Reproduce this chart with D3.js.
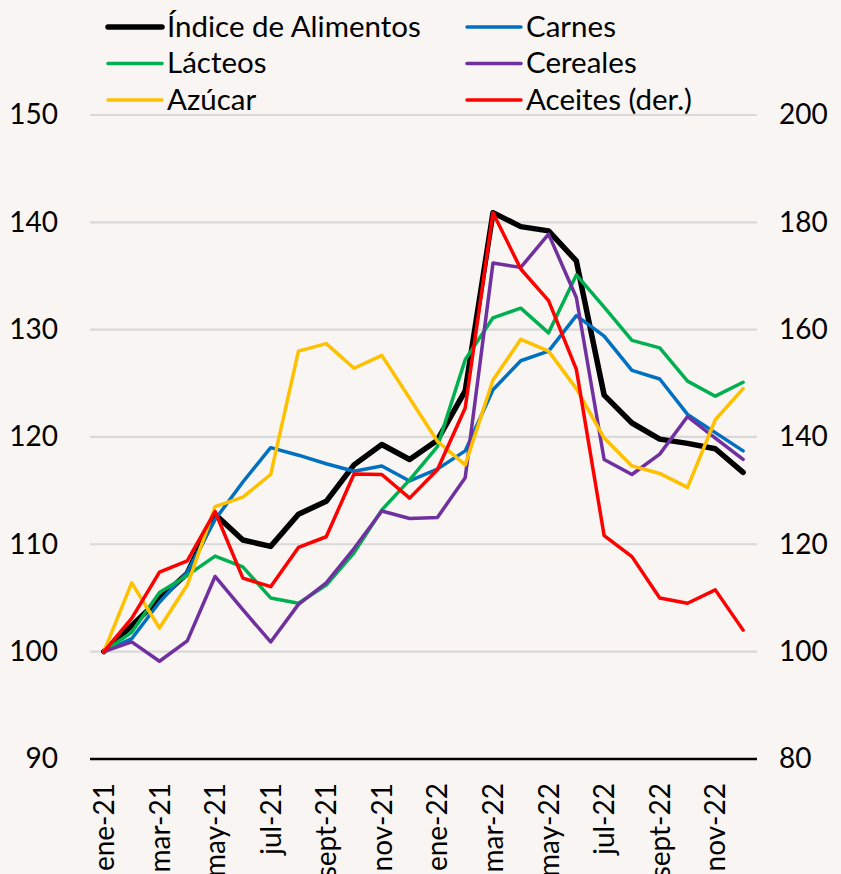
<!DOCTYPE html>
<html><head><meta charset="utf-8">
<script src="https://cdn.jsdelivr.net/npm/d3@7"></script>
<style>
html,body{margin:0;padding:0;background:#f8f5f2;}
svg{display:block;font-family:Lato, "Open Sans", sans-serif;}
</style></head>
<body>
<svg id="c" width="841" height="874"></svg>
<script>
const months = ["ene-21","feb-21","mar-21","abr-21","may-21","jun-21","jul-21","ago-21","sept-21","oct-21","nov-21","dic-21",
                "ene-22","feb-22","mar-22","abr-22","may-22","jun-22","jul-22","ago-22","sept-22","oct-22","nov-22","dic-22"];
const indice   = [100,102.4,104.9,107.3,112.8,110.4,109.8,112.8,114.0,117.4,119.3,117.9,119.7,124.3,140.9,139.6,139.2,136.4,123.9,121.3,119.8,119.4,118.9,116.7];
const carnes   = [100,101.2,104.6,107.4,112.3,115.8,119.0,118.3,117.5,116.8,117.3,115.9,117.0,118.7,124.4,127.1,128.0,131.3,129.4,126.2,125.4,122.1,120.4,118.7];
const lacteos  = [100,101.8,105.5,107.1,108.9,107.9,105.0,104.5,106.2,109.2,113.2,116.0,119.1,127.2,131.1,132.0,129.7,135.1,132.1,129.0,128.3,125.2,123.8,125.1];
const cereales = [100,100.9,99.1,101.0,107.0,103.9,100.9,104.4,106.4,109.6,113.1,112.4,112.5,116.2,136.2,135.8,138.9,133.0,117.9,116.5,118.4,121.9,119.9,117.9];
const azucar   = [100,106.4,102.2,106.2,113.5,114.4,116.5,128.0,128.7,126.4,127.6,123.6,119.6,117.4,125.3,129.1,128.0,124.5,119.9,117.3,116.6,115.3,121.6,124.5];
const aceites  = [100,106.2,114.8,116.9,126.1,113.7,112.1,119.4,121.4,133.1,133.0,128.6,133.9,145.4,181.8,171.3,165.4,152.6,121.6,117.7,110.0,109.0,111.5,104.0];
const leftTicks  = [90,100,110,120,130,140,150];
const rightTicks = [80,100,120,140,160,180,200];

const series = [
  {name:"Índice de Alimentos", values:indice,   color:"#000000", width:5.5, axis:"L"},
  {name:"Carnes",              values:carnes,   color:"#0070c0", width:3.5, axis:"L"},
  {name:"Lácteos",             values:lacteos,  color:"#00b050", width:3.5, axis:"L"},
  {name:"Cereales",            values:cereales, color:"#7030a0", width:3.5, axis:"L"},
  {name:"Azúcar",              values:azucar,   color:"#ffc000", width:3.5, axis:"L"},
  {name:"Aceites (der.)",      values:aceites,  color:"#ff0000", width:3.5, axis:"R"}
];

const svg = d3.select("#c");
const x = d3.scaleBand().domain(months).range([90,757]);
const yL = d3.scaleLinear().domain([90,150]).range([758.9,115]);
const yR = d3.scaleLinear().domain([80,200]).range([758.9,115]);

// gridlines
svg.append("g").selectAll("line").data(leftTicks.filter(d=>d>90)).join("line")
  .attr("x1",90).attr("x2",757).attr("y1",d=>yL(d)).attr("y2",d=>yL(d))
  .attr("stroke","#d9d9d9").attr("stroke-width",2.2);

// left axis labels
const axL = d3.axisLeft(yL).tickValues(leftTicks).tickSize(0).tickPadding(0);
const gL = svg.append("g").attr("transform","translate(58,0)").call(axL);
gL.select(".domain").remove();
gL.selectAll("text").attr("font-size",28).attr("fill","#000").attr("font-family","Lato");

const axR = d3.axisRight(yR).tickValues(rightTicks).tickSize(0).tickPadding(0);
const gR = svg.append("g").attr("transform","translate(779,0)").call(axR);
gR.select(".domain").remove();
gR.selectAll("text").attr("font-size",28).attr("fill","#000").attr("font-family","Lato");

// x axis line
svg.append("line").attr("x1",90).attr("x2",757).attr("y1",yL(90)).attr("y2",yL(90))
  .attr("stroke","#000").attr("stroke-width",2.5);

// x labels
const gX = svg.append("g");
gX.selectAll("text").data(months.filter((d,i)=>i%2===0)).join("text")
  .attr("transform",d=>`translate(${x(d)+x.bandwidth()/2},783) rotate(-90)`)
  .attr("text-anchor","end").attr("dy","0.36em")
  .attr("font-size",28).attr("fill","#000").text(d=>d);

// lines
const lineGen = (ys) => d3.line().x((d,i)=>x(months[i])+x.bandwidth()/2).y(d=>ys(d));
svg.append("g").selectAll("path").data(series).join("path")
  .attr("d",s=>lineGen(s.axis==="L"?yL:yR)(s.values))
  .attr("fill","none").attr("stroke",s=>s.color).attr("stroke-width",s=>s.width)
  .attr("stroke-linejoin","round").attr("stroke-linecap","round");

// legend
const legendPos = [
  {col:0,row:0},{col:1,row:0},{col:0,row:1},{col:1,row:1},{col:0,row:2},{col:1,row:2}
];
const colX = [108,467], rowY = [27,63.5,100];
const lg = svg.append("g").selectAll("g").data(series).join("g")
  .attr("transform",(s,i)=>`translate(${colX[legendPos[i].col]},${rowY[legendPos[i].row]})`);
lg.append("line").attr("x1",0).attr("x2",54).attr("y1",0).attr("y2",0)
  .attr("stroke",s=>s.color).attr("stroke-width",s=>s.width).attr("stroke-linecap","round");
lg.append("text").attr("x",59).attr("dy","0.33em").attr("font-size",29.5).attr("fill","#000").text(s=>s.name);
</script>
</body></html>
